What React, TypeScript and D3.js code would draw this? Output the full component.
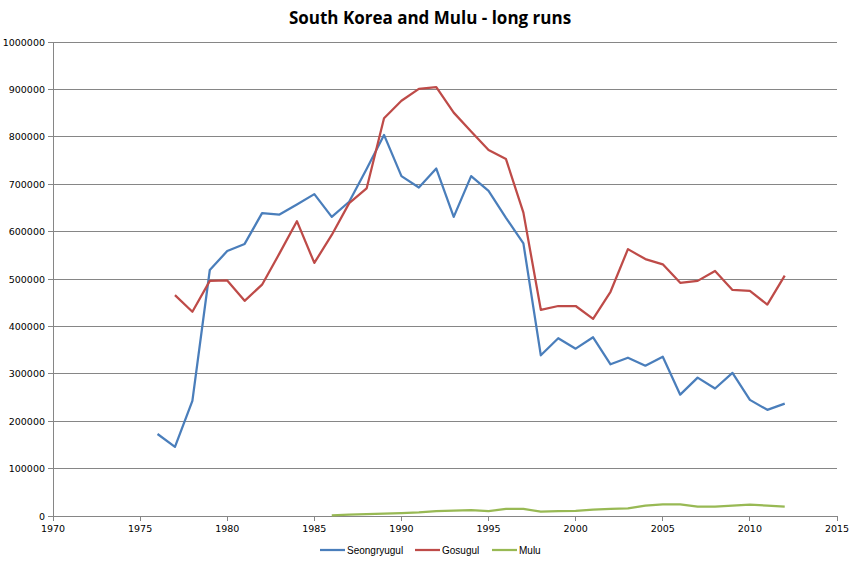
import React from "react";
import * as d3 from "d3";

const seongYears = d3.range(1976, 2013);
const seongValues = [173000, 146000, 243000, 519000, 559000, 574000, 639000, 636000, 657000, 679000, 631000, 663000, 732000, 804000, 717000, 693000, 733000, 631000, 717000, 686000, 629000, 575000, 339000, 375000, 353000, 377000, 320000, 334000, 317000, 336000, 256000, 292000, 269000, 302000, 245000, 224000, 237000];

const gosuYears = d3.range(1977, 2013);
const gosuValues = [466000, 431000, 496000, 497000, 454000, 488000, 554000, 622000, 534000, 593000, 660000, 691000, 839000, 876000, 901000, 905000, 851000, 811000, 772000, 753000, 640000, 435000, 443000, 443000, 416000, 473000, 563000, 542000, 531000, 492000, 496000, 517000, 477000, 475000, 446000, 507000];

const muluYears = d3.range(1986, 2013);
const muluValues = [1400, 2800, 4200, 4900, 6300, 7700, 10500, 11200, 12600, 10500, 14800, 14800, 9000, 10500, 11000, 13400, 14800, 16000, 22000, 24600, 24600, 19700, 20000, 22000, 23900, 22000, 19700];

const xTicks = [1970, 1975, 1980, 1985, 1990, 1995, 2000, 2005, 2010, 2015];
const yTicks = [0, 100000, 200000, 300000, 400000, 500000, 600000, 700000, 800000, 900000, 1000000];

const series = [
  { name: "Seongryugul", years: seongYears, values: seongValues, color: "#4a7ebb" },
  { name: "Gosugul", years: gosuYears, values: gosuValues, color: "#be4b48" },
  { name: "Mulu", years: muluYears, values: muluValues, color: "#98b954" },
];

const W = 862, H = 569;
const left = 53, right = 837, top = 42, bottom = 516;

export default function App() {
  const x = d3.scaleLinear().domain([1970, 2015]).range([left, right]);
  const y = d3.scaleLinear().domain([0, 1000000]).range([bottom, top]);
  const line = d3.line<[number, number]>().x(d => x(d[0])).y(d => y(d[1]));
  const legendX = [320, 415, 492];
  return (
    <svg width={W} height={H} style={{ position: "absolute", left: 0, top: 0, background: "#fff" }}>
      <rect width={W} height={H} fill="#fff" />
      <text x={430} y={24} textAnchor="middle" fontFamily="Open Sans, sans-serif" fontWeight="bold" fontSize={17} fill="#000">South Korea and Mulu - long runs</text>
      {yTicks.map(t => (
        <g key={t}>
          <line x1={left - 5} x2={right} y1={y(t)} y2={y(t)} stroke="#868686" strokeWidth={1} shapeRendering="crispEdges" />
          <text x={left - 8} y={y(t) + 3.5} textAnchor="end" fontFamily="DejaVu Sans, sans-serif" fontSize={9.5} fill="#000">{t}</text>
        </g>
      ))}
      <line x1={left} x2={left} y1={top} y2={bottom} stroke="#868686" strokeWidth={1} shapeRendering="crispEdges" />
      {xTicks.map(t => (
        <g key={t}>
          <line x1={x(t)} x2={x(t)} y1={bottom} y2={bottom + 5} stroke="#868686" strokeWidth={1} shapeRendering="crispEdges" />
          <text x={x(t)} y={bottom + 16} textAnchor="middle" fontFamily="DejaVu Sans, sans-serif" fontSize={9.5} fill="#000">{t}</text>
        </g>
      ))}
      {series.map(s => (
        <path key={s.name} d={line(s.years.map((yr, i) => [yr, s.values[i]] as [number, number])) || ""} fill="none" stroke={s.color} strokeWidth={2.25} strokeLinejoin="round" />
      ))}
      {series.map((s, i) => (
        <g key={s.name}>
          <line x1={legendX[i]} x2={legendX[i] + 25} y1={550} y2={550} stroke={s.color} strokeWidth={2.25} />
          <text x={legendX[i] + 27} y={553.5} fontFamily="Liberation Sans, sans-serif" fontSize={10} fill="#000">{s.name}</text>
        </g>
      ))}
    </svg>
  );
}
